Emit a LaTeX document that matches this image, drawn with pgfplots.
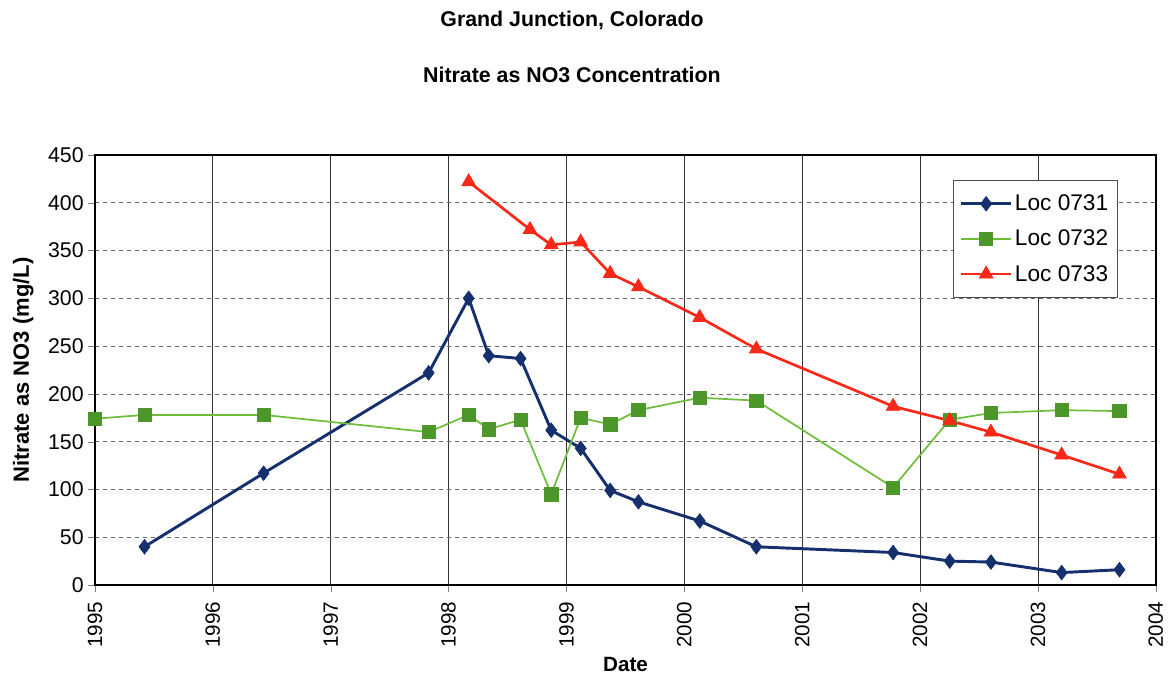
\documentclass[border=0pt]{standalone}
\usepackage{pgfplots}
\pgfplotsset{compat=1.18}
\usepackage{fontspec}
\setmainfont{Liberation Sans}
\definecolor{cblue}{RGB}{22,48,110}
\definecolor{cgreenl}{RGB}{110,190,60}
\definecolor{cgreen}{RGB}{76,150,42}
\definecolor{cred}{RGB}{250,40,25}
\begin{document}
\begin{tikzpicture}
\useasboundingbox (-71.25pt,-73.5pt) rectangle (810pt,438.75pt);
\begin{axis}[
  scale only axis,
  width=795.75pt, height=322.5pt,
  at={(0pt,0pt)}, anchor=south west,
  xmin=1995, xmax=2004, ymin=0, ymax=450,
  xtick={1995,...,2004}, ytick={0,50,...,450},
  xticklabel style={rotate=90, anchor=east, font=\fontsize{15.5}{17}\selectfont, xshift=-4pt},
  yticklabel style={font=\fontsize{16}{17}\selectfont},
  /pgf/number format/assume math mode=true,
  /pgf/number format/1000 sep={},
  tick align=outside, tick pos=left,
  major tick length=5pt,
  xmajorgrids, ymajorgrids,
  x grid style={black!80, line width=0.6pt},
  y grid style={black!60, dashed, line width=0.5pt},
  axis line style={black, line width=1pt},
  xlabel={\bfseries Date},
  ylabel={\bfseries Nitrate as NO3 (mg/L)},
  xlabel style={font=\fontsize{15.5}{17}\selectfont\bfseries, yshift=0pt},
  ylabel style={font=\fontsize{16.5}{18}\selectfont\bfseries, yshift=4pt},
  legend style={at={(0.964,0.942)}, anchor=north east, draw=black!70,
    font=\fontsize{17}{20}\selectfont, row sep=9pt, inner xsep=5pt, inner ysep=9pt},
  legend image code/.code={\draw[mark repeat=2,mark phase=2] plot coordinates {(0cm,0cm)(0.65cm,0cm)(1.3cm,0cm)};},
  legend cell align=left,
  clip=false,
]
\addplot[cblue, line width=2.2pt, mark=diamond*, mark size=5.5pt, mark options={fill=cblue, draw=cblue, line width=0.5pt}] coordinates {
(1995.42,40) (1996.43,117) (1997.83,222) (1998.17,300) (1998.34,240) (1998.61,237)
(1998.87,162) (1999.12,143) (1999.37,99) (1999.61,87) (2000.13,67) (2000.61,40)
(2001.77,34) (2002.25,25) (2002.60,24) (2003.20,13) (2003.69,16)};
\addlegendentry{Loc 0731}
\addplot[cgreenl, line width=1.3pt, mark=square*, mark size=5pt, mark options={fill=cgreen, draw=cgreen, line width=0.5pt}] coordinates {
(1995.00,174) (1995.42,178) (1996.43,178) (1997.83,160) (1998.17,178) (1998.34,163)
(1998.61,173) (1998.87,95) (1999.12,175) (1999.37,168) (1999.61,183) (2000.13,196)
(2000.61,193) (2001.77,102) (2002.25,173) (2002.60,180) (2003.20,183) (2003.69,182)};
\addlegendentry{Loc 0732}
\addplot[cred, line width=2pt, mark=triangle*, mark size=6pt, mark options={fill=cred, draw=cred, line width=0.5pt}] coordinates {
(1998.17,422) (1998.69,372) (1998.87,356) (1999.12,359) (1999.37,326) (1999.61,312)
(2000.13,280) (2000.61,247) (2001.77,187) (2002.25,172) (2002.60,160) (2003.20,136)
(2003.69,116)};
\addlegendentry{Loc 0733}
\end{axis}
\node[font=\fontsize{16}{18}\selectfont\bfseries] at (357.75pt,423.75pt) {Grand Junction, Colorado};
\node[font=\fontsize{16}{18}\selectfont\bfseries] at (357.75pt,382.5pt) {Nitrate as NO3 Concentration};
\end{tikzpicture}
\end{document}
